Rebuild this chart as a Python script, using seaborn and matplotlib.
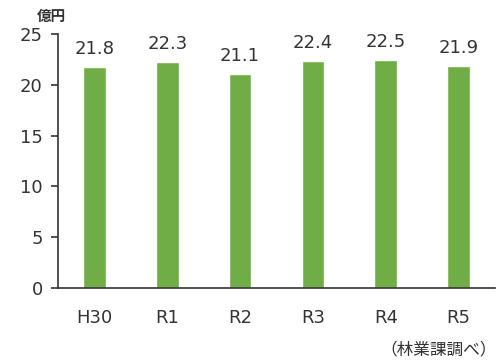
import matplotlib
matplotlib.use('Agg')
import matplotlib.pyplot as plt
import seaborn as sns
import pandas as pd

# ========== データ ==========
years = ['H30', 'R1', 'R2', 'R3', 'R4', 'R5']
values = [21.8, 22.3, 21.1, 22.4, 22.5, 21.9]
unit_label = '億円'
source_note = '（林業課調べ）'

sns.set_theme(style='white')
plt.rcParams['font.family'] = ['DejaVu Sans', 'Noto Sans CJK JP']

df = pd.DataFrame({'year': years, 'value': values})

fig = plt.figure(figsize=(4.98, 3.63), dpi=100)
ax = fig.add_axes([0.1165, 0.2066, 0.8775, 0.6994])

sns.barplot(data=df, x='year', y='value', color='#70AD47', width=0.31,
            saturation=1, ax=ax)

# 数値ラベル
for c in ax.containers:
    ax.bar_label(c, fmt='%.1f', padding=6, fontsize=13, color='#333333')

ax.set_ylim(0, 25)
ax.set_yticks(range(0, 26, 5))
ax.set_xlim(-0.5, 5.5)
ax.set_xlabel('')
ax.set_ylabel('')
for s in ['top', 'right']:
    ax.spines[s].set_visible(False)
for s in ['left', 'bottom']:
    ax.spines[s].set_color('#333333')
    ax.spines[s].set_linewidth(1.2)
ax.tick_params(axis='y', left=True, length=5, width=1.2, color='#333333',
               labelsize=13, labelcolor='#333333', pad=6)
ax.tick_params(axis='x', bottom=False, labelsize=13, labelcolor='#333333', pad=9)

fig.text(0.073, 0.955, unit_label, fontsize=10.5, color='#333333', va='center', ha='left',
         family=['Noto Sans CJK JP'], fontweight='bold')
fig.text(0.997, 0.035, source_note, fontsize=12, color='#333333', va='center', ha='right',
         family=['Noto Sans CJK JP'])

fig.savefig('out.png', dpi=100)
